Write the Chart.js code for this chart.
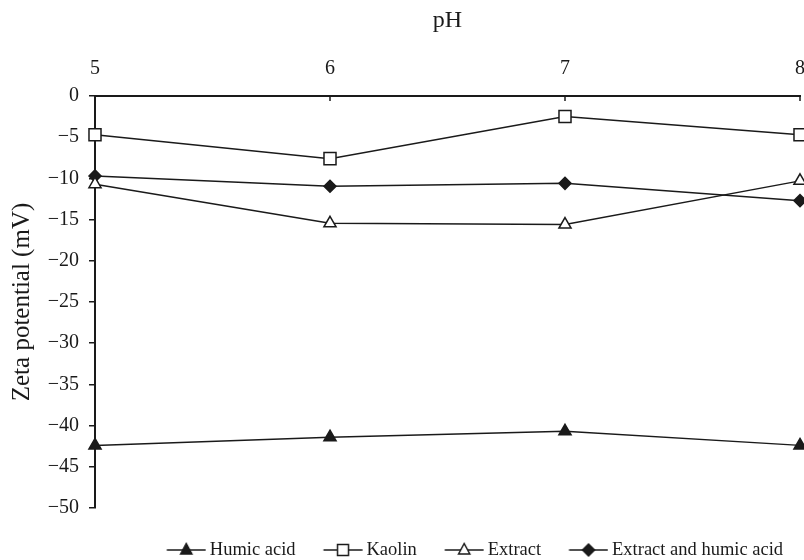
<!DOCTYPE html>
<html lang="en">
<head>
    <meta charset="UTF-8">
    <title>Zeta potential vs pH</title>
    <script src="https://cdn.jsdelivr.net/npm/chart.js"></script>
    <style>
        body { margin: 0; background: #fff; }
        canvas { display: block; }
    </style>
</head>
<body>
    <canvas id="zetaChart" width="804" height="560"></canvas>
    <script>
        const phValues = [5, 6, 7, 8];
        const humicAcid = [-42.4, -41.4, -40.7, -42.4];
        const kaolin = [-4.7, -7.6, -2.5, -4.7];
        const extract = [-10.7, -15.45, -15.6, -10.3];
        const extractHumic = [-9.7, -10.95, -10.6, -12.7];
        const seriesNames = ['Humic acid', 'Kaolin', 'Extract', 'Extract and humic acid'];
        const xTicks = [5, 6, 7, 8];
        const yTicks = [0, -5, -10, -15, -20, -25, -30, -35, -40, -45, -50];

        const ink = '#1a1a1a';
        Chart.defaults.font.family = "'Liberation Serif', 'Times New Roman', serif";
        Chart.defaults.color = ink;

        // little "line through marker" pictures for the legend
        function legendIcon(style, filled) {
            const c = document.createElement('canvas');
            c.width = 56;
            c.height = 18;
            const g = c.getContext('2d');
            const cx = 36.1, cy = 9;
            g.strokeStyle = ink;
            g.lineWidth = 1.5;
            g.beginPath();
            g.moveTo(16.6, cy);
            g.lineTo(55.6, cy);
            g.stroke();
            g.fillStyle = filled ? ink : '#fff';
            g.beginPath();
            if (style === 'triangle') {
                g.moveTo(cx, cy - 6.5);
                g.lineTo(cx + 5.6, cy + 4);
                g.lineTo(cx - 5.6, cy + 4);
                g.closePath();
            } else if (style === 'rect') {
                g.rect(cx - 5.5, cy - 5.5, 11, 11);
            } else {
                g.moveTo(cx, cy - 6);
                g.lineTo(cx + 6, cy);
                g.lineTo(cx, cy + 6);
                g.lineTo(cx - 6, cy);
                g.closePath();
            }
            g.fill();
            g.stroke();
            return c;
        }

        function series(label, values, style, radius, filled) {
            return {
                label: label,
                data: phValues.map((x, i) => ({ x: x, y: values[i] })),
                borderColor: ink,
                borderWidth: 1.5,
                pointStyle: style,
                pointRadius: radius,
                pointHoverRadius: radius,
                pointBorderColor: ink,
                pointBorderWidth: 1.5,
                pointBackgroundColor: filled ? ink : '#fff',
                tension: 0,
                clip: false,
                icon: legendIcon(style, filled)
            };
        }

        const datasets = [
            series(seriesNames[0], humicAcid, 'triangle', 7, true),
            series(seriesNames[1], kaolin, 'rect', 8.5, false),
            series(seriesNames[2], extract, 'triangle', 7, false),
            series(seriesNames[3], extractHumic, 'rectRot', 6, true)
        ];

        // tick marks on the top axis point down into the plot
        const innerTicks = {
            id: 'innerTicks',
            afterDraw(chart) {
                const { ctx, chartArea } = chart;
                const x = chart.scales.x;
                ctx.save();
                ctx.strokeStyle = ink;
                ctx.lineWidth = 1.5;
                x.ticks.forEach(t => {
                    const px = x.getPixelForValue(t.value);
                    ctx.beginPath();
                    ctx.moveTo(px, chartArea.top);
                    ctx.lineTo(px, chartArea.top + 5);
                    ctx.stroke();
                });
                ctx.restore();
            }
        };

        new Chart(document.getElementById('zetaChart'), {
            type: 'line',
            data: { datasets: datasets },
            plugins: [innerTicks],
            options: {
                responsive: false,
                animation: false,
                layout: { autoPadding: false, padding: { left: 0, top: 0, bottom: 0, right: 4 } },
                scales: {
                    x: {
                        type: 'linear',
                        position: 'top',
                        min: 5,
                        max: 8,
                        afterBuildTicks: s => { s.ticks = xTicks.map(v => ({ value: v })); },
                        afterFit: s => { s.height = 96; s.paddingRight = 0; },
                        ticks: { font: { size: 20 }, color: ink, padding: 0 },
                        grid: {
                            drawOnChartArea: false,
                            drawTicks: true,
                            tickLength: 15,
                            tickColor: 'rgba(0,0,0,0)'
                        },
                        border: { display: true, width: 2, color: ink },
                        title: {
                            display: true,
                            text: 'pH',
                            font: { size: 24 },
                            color: ink,
                            padding: { top: 6, bottom: 0 }
                        }
                    },
                    y: {
                        min: -50,
                        max: 0,
                        afterBuildTicks: s => { s.ticks = yTicks.map(v => ({ value: v })); },
                        afterFit: s => { s.width = 95; },
                        ticks: {
                            font: { size: 20 },
                            color: ink,
                            padding: 10,
                            callback: v => String(v).replace('-', '\u2212')
                        },
                        grid: {
                            drawOnChartArea: false,
                            drawTicks: true,
                            tickLength: 6,
                            color: ink,
                            lineWidth: 1.5
                        },
                        border: { display: true, width: 2, color: ink },
                        title: {
                            display: true,
                            text: 'Zeta potential (mV)',
                            font: { size: 25 },
                            color: ink,
                            padding: { top: 7, bottom: 0 }
                        }
                    }
                },
                plugins: {
                    tooltip: { enabled: false },
                    legend: {
                        position: 'bottom',
                        align: 'end',
                        maxHeight: 52,
                        title: { display: true, text: '', font: { size: 1 }, padding: { top: 14.6, bottom: 0 } },
                        labels: {
                            usePointStyle: true,
                            pointStyleWidth: 44.75,
                            padding: 16.9,
                            font: { size: 18.5 },
                            color: ink,
                            generateLabels: chart => chart.data.datasets.map((ds, i) => ({
                                text: ds.label,
                                pointStyle: ds.icon,
                                fillStyle: 'transparent',
                                strokeStyle: 'transparent',
                                lineWidth: 0,
                                fontColor: ink,
                                hidden: false,
                                datasetIndex: i
                            }))
                        }
                    }
                }
            }
        });
    </script>
</body>
</html>
